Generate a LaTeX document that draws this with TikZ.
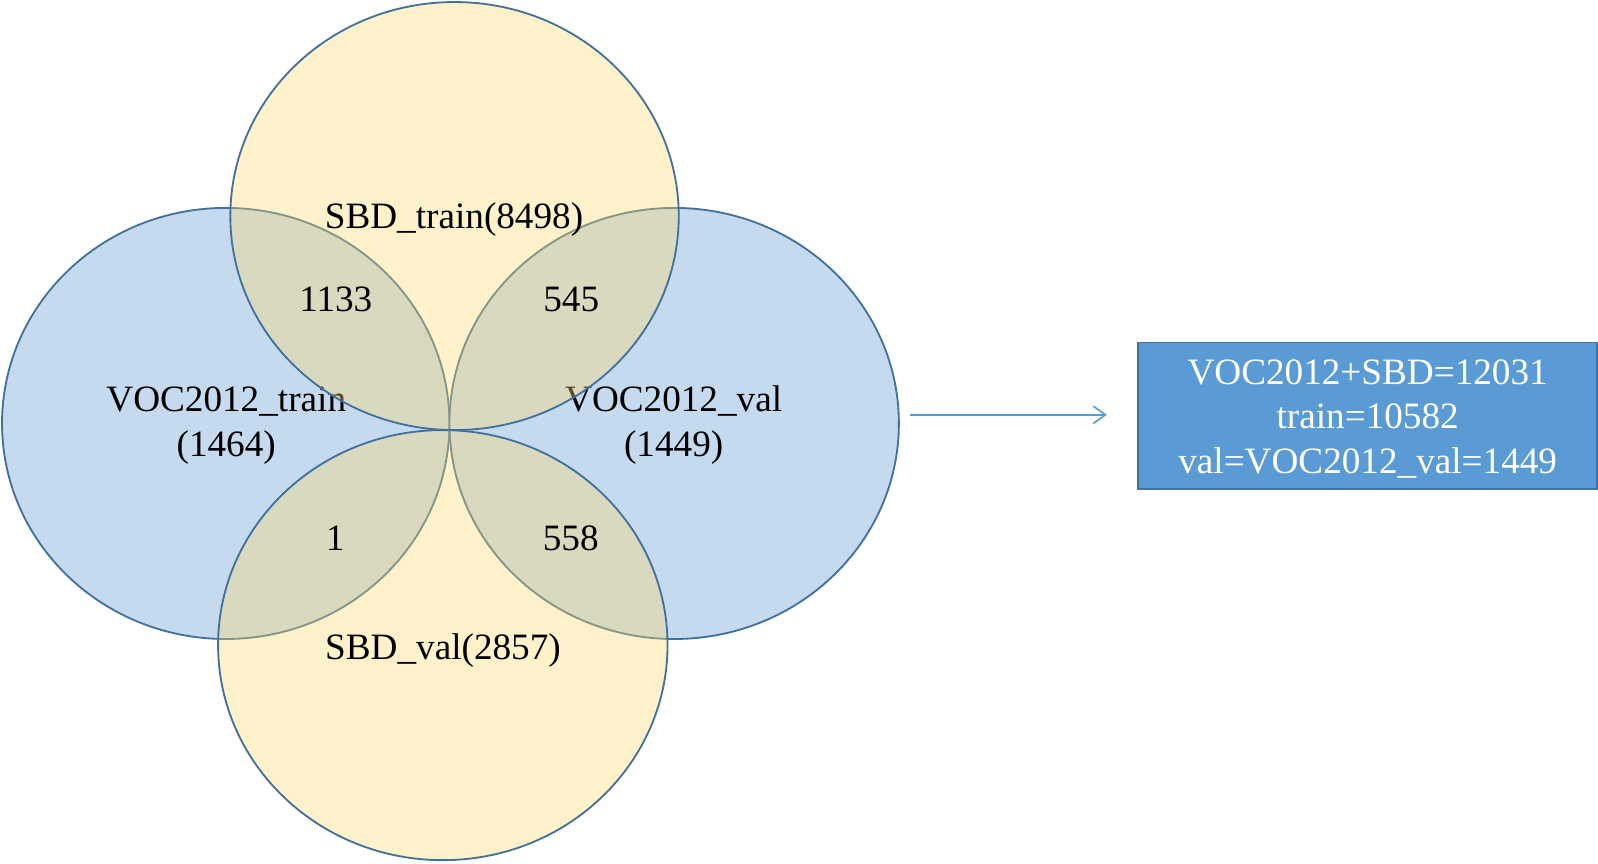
\documentclass[tikz,border=0pt]{standalone}
\usepackage{fontspec}
\setmainfont{Liberation Serif}
\usetikzlibrary{shapes.geometric,arrows.meta,calc}
\definecolor{vennblue}{RGB}{197,218,239}
\definecolor{vennedge}{RGB}{65,113,156}
\definecolor{venngold}{RGB}{255,217,102}
\definecolor{boxblue}{RGB}{91,155,213}
\begin{document}
\begin{tikzpicture}[x=1pt,y=-1pt,
  font=\fontsize{36.5}{44}\selectfont,
  blueset/.style={ellipse, draw=vennedge, fill=vennblue, line width=1.8pt, inner sep=0pt},
  goldset/.style={ellipse, draw=vennedge, fill=venngold, fill opacity=0.35, draw opacity=1, line width=1.8pt, inner sep=0pt},
  lbl/.style={anchor=base, inner sep=0pt, text=black},
  summarybox/.style={draw=vennedge, fill=boxblue, line width=1.8pt, minimum width=450pt, minimum height=144pt, inner sep=0pt},
  summarytext/.style={inner sep=0pt, align=center, text=white},
  flow/.style={draw=boxblue, line width=1.6pt, -{Straight Barb[length=12pt,width=17pt]}}
]
\useasboundingbox (0,0) rectangle (1568,847);
% blue sets
\node[blueset, minimum width=439pt, minimum height=423pt] (voctrain) at (221.5,415.5) {};
\node[blueset, minimum width=441pt, minimum height=423pt] (vocval) at (661.5,415.5) {};
\node[lbl] (tVT) at (222,404) {VOC2012\_train};
\node[lbl] (nVT) at (222,448) {(1464)};
\node[lbl] (tVV) at (661,404) {VOC2012\_val};
\node[lbl] (nVV) at (661,448) {(1449)};
% gold sets
\node[goldset, minimum width=440pt, minimum height=420pt] (sbdtrain) at (446,212) {};
\node[goldset, minimum width=441pt, minimum height=422pt] (sbdval) at (434.5,633) {};
\node[lbl] (tST) at (445.5,224) {SBD\_train(8498)};
\node[lbl] (tSV) at (434.7,647) {SBD\_val(2857)};
\node[lbl] (n1133) at (329.5,306) {1133};
\node[lbl] (n545) at (560.5,306) {545};
\node[lbl] (n1) at (329,540) {1};
\node[lbl] (n558) at (560,540) {558};
% summary
\node[summarybox] (summary) at (1342,408) {};
\node[summarytext] (summarytxt) at (1342,411) {VOC2012+SBD=12031\\train=10582\\val=VOC2012\_val=1449};
\draw[flow] ($(vocval.east)+(10,-8.5)$) -- ($(summary.west)+(-30,-1)$);
\end{tikzpicture}
\end{document}
